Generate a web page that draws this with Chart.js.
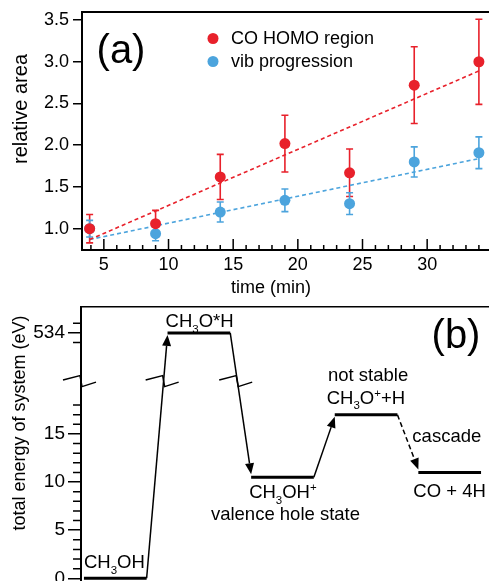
<!DOCTYPE html>
<html>
<head>
<meta charset="utf-8">
<script src="https://cdn.jsdelivr.net/npm/chart.js@4.4.1/dist/chart.umd.min.js"></script>
<style>
  html, body { margin: 0; padding: 0; background: #fff; overflow: hidden; }
  #wrap { position: relative; width: 489px; height: 581px; overflow: hidden; background: #fff; }
  #chartA { position: absolute; left: 0; top: 0; }
  #chartB { position: absolute; left: 0; top: 290px; }
</style>
</head>
<body>
<div id="wrap">
  <canvas id="chartA" width="495" height="300"></canvas>
  <canvas id="chartB" width="495" height="295"></canvas>
</div>
<script>
// Panel (a): relative peak area vs. time
const times = [3.9, 9, 14, 19, 24, 29, 34];
const homoArea = [1.0, 1.06, 1.62, 2.02, 1.67, 2.72, 3.0];
const homoErr = [0.17, 0.16, 0.27, 0.34, 0.285, 0.46, 0.51];
const vibArea = [1.0, 0.94, 1.2, 1.34, 1.3, 1.8, 1.91];
const vibErr = [0.1, 0.085, 0.12, 0.135, 0.13, 0.18, 0.19];
const fitTimes = [3.9, 34];
const homoFit = [0.87, 2.89];
const vibFit = [0.87, 1.84];
const areaTicks = [1.0, 1.5, 2.0, 2.5, 3.0, 3.5];
const timeTicks = [5, 10, 15, 20, 25, 30];
const timeMinor = [4, 6, 7, 8, 9, 11, 12, 13, 14, 16, 17, 18, 19, 21, 22, 23, 24, 26, 27, 28, 29, 31, 32, 33, 34];

// Panel (b): energy levels in eV, axis broken between ~20 and ~530
const stateLabels = [
  [["CH", 0], ["3", 1], ["OH", 0]],
  [["CH", 0], ["3", 1], ["O*H", 0]],
  [["CH", 0], ["3", 1], ["OH", 0], ["+", -1]],
  [["CH", 0], ["3", 1], ["O", 0], ["+", -1], ["+H", 0]],
  [["CO + 4H", 0]]
];
const energies = [0, 534, 10.5, 17, 11];
const energyTicks = [0, 5, 10, 15, 534];
const energyMinor = [1, 2, 3, 4, 6, 7, 8, 9, 11, 12, 13, 14, 16, 17, 18, 533, 535];

const RED = "#e8212b";
const BLUE = "#4ca4dd";
const FONT = "'Liberation Sans', Arial, Helvetica, sans-serif";

Chart.defaults.font.family = FONT;
Chart.defaults.font.size = 18;
Chart.defaults.color = "#000";

const pairs = (xs, ys) => xs.map((x, i) => ({ x, y: ys[i] }));

// broken axis: values above the gap are shifted down
const GAP = 508.5;
const BREAK = 20.6;
const toAxis = v => (v > 100 ? v - GAP : v);
const fromAxis = v => (v > BREAK ? v + GAP : v);
const LEVEL_HALF = 0.375;

// ---------- panel (a) ----------
const errorBars = {
  id: "errorBars",
  beforeDatasetsDraw(chart) {
    const { ctx, scales: { x, y } } = chart;
    [[homoArea, homoErr, RED], [vibArea, vibErr, BLUE]].forEach(([vals, errs, col]) => {
      ctx.save();
      ctx.strokeStyle = col;
      ctx.lineWidth = 1.6;
      times.forEach((t, i) => {
        const px = x.getPixelForValue(t);
        const top = y.getPixelForValue(vals[i] + errs[i]);
        const bot = y.getPixelForValue(vals[i] - errs[i]);
        ctx.beginPath();
        ctx.moveTo(px, top); ctx.lineTo(px, bot);
        ctx.moveTo(px - 3.5, top); ctx.lineTo(px + 3.5, top);
        ctx.moveTo(px - 3.5, bot); ctx.lineTo(px + 3.5, bot);
        ctx.stroke();
      });
      ctx.restore();
    });
  }
};

const frameA = {
  id: "frameA",
  afterDraw(chart) {
    const { ctx, chartArea: a, scales: { x } } = chart;
    ctx.save();
    ctx.strokeStyle = "#000";
    ctx.lineWidth = 1.8;
    ctx.beginPath();
    ctx.moveTo(a.left, a.top); ctx.lineTo(a.right, a.top);
    ctx.stroke();

    // inward ticks on the time axis
    ctx.lineWidth = 1.5;
    ctx.beginPath();
    timeTicks.forEach(t => {
      const px = x.getPixelForValue(t);
      ctx.moveTo(px, a.bottom); ctx.lineTo(px, a.bottom - 11);
    });
    timeMinor.forEach(t => {
      const px = x.getPixelForValue(t);
      ctx.moveTo(px, a.bottom); ctx.lineTo(px, a.bottom - 5);
    });
    ctx.stroke();

    // legend
    const sets = chart.data.datasets;
    [[sets[0], 38.5], [sets[1], 61.5]].forEach(([ds, yy]) => {
      ctx.fillStyle = ds.backgroundColor;
      ctx.beginPath(); ctx.arc(213, yy, 5.5, 0, 2 * Math.PI); ctx.fill();
      ctx.fillStyle = "#000";
      ctx.font = "18px " + FONT;
      ctx.textAlign = "left";
      ctx.textBaseline = "middle";
      ctx.fillText(ds.label, 231, yy + 1);
    });

    ctx.textAlign = "center";
    ctx.textBaseline = "middle";
    ctx.font = "40px " + FONT;
    ctx.fillText("(a)", 121, 52);
    ctx.font = "18px " + FONT;
    ctx.fillText("time (min)", 271, 288);
    ctx.translate(21, 109);
    ctx.rotate(-Math.PI / 2);
    ctx.font = "20px " + FONT;
    ctx.fillText("relative area", 0, 0);
    ctx.restore();
  }
};

new Chart(document.getElementById("chartA"), {
  type: "scatter",
  data: {
    datasets: [
      { label: "CO HOMO region", data: pairs(times, homoArea), backgroundColor: RED, borderColor: RED, pointRadius: 5.5, pointBorderWidth: 0 },
      { label: "vib progression", data: pairs(times, vibArea), backgroundColor: BLUE, borderColor: BLUE, pointRadius: 5.5, pointBorderWidth: 0 },
      { type: "line", label: "fit HOMO", data: pairs(fitTimes, homoFit), borderColor: RED, borderWidth: 1.6, borderDash: [4, 3], pointRadius: 0, fill: false },
      { type: "line", label: "fit vib", data: pairs(fitTimes, vibFit), borderColor: BLUE, borderWidth: 1.6, borderDash: [4, 3], pointRadius: 0, fill: false }
    ]
  },
  options: {
    responsive: false,
    animation: false,
    layout: { padding: { top: 12, right: 3, left: 0, bottom: 0 } },
    plugins: { legend: { display: false }, tooltip: { enabled: false } },
    scales: {
      x: {
        type: "linear", min: 3.31, max: 34.82,
        afterBuildTicks: s => { s.ticks = timeTicks.map(v => ({ value: v })); },
        afterFit: s => { s.height = 50; s.paddingLeft = 0; s.paddingRight = 0; },
        grid: { drawOnChartArea: false, drawTicks: false },
        border: { color: "#000", width: 2 },
        ticks: { padding: 4, autoSkip: false, maxRotation: 0, font: { size: 18 } }
      },
      y: {
        min: 0.745, max: 3.596,
        afterBuildTicks: s => { s.ticks = areaTicks.map(v => ({ value: v })); },
        afterFit: s => { s.width = 82; s.paddingTop = 0; s.paddingBottom = 0; },
        grid: { drawOnChartArea: false, tickLength: 9, color: "#000", lineWidth: 1.5 },
        border: { color: "#000", width: 2 },
        ticks: { padding: 4, autoSkip: false, font: { size: 18 }, callback: v => v.toFixed(1) }
      }
    }
  },
  plugins: [errorBars, frameA]
});

// ---------- panel (b) ----------
function arrow(ctx, x0, y0, x1, y1, dashed) {
  const ang = Math.atan2(y1 - y0, x1 - x0);
  const L = 11, W = 4.5;
  const bx = x1 - L * Math.cos(ang), by = y1 - L * Math.sin(ang);
  ctx.save();
  ctx.lineWidth = 1.5;
  ctx.strokeStyle = "#000";
  ctx.fillStyle = "#000";
  if (dashed) ctx.setLineDash([5, 3]);
  ctx.beginPath(); ctx.moveTo(x0, y0); ctx.lineTo(bx, by); ctx.stroke();
  ctx.setLineDash([]);
  ctx.beginPath();
  ctx.moveTo(x1, y1);
  ctx.lineTo(bx + W * Math.sin(ang), by - W * Math.cos(ang));
  ctx.lineTo(bx - W * Math.sin(ang), by + W * Math.cos(ang));
  ctx.closePath();
  ctx.fill();
  ctx.restore();
}

function zig(ctx, cx, cy) {
  ctx.save();
  ctx.strokeStyle = "#000";
  ctx.lineWidth = 1.5;
  ctx.beginPath();
  ctx.moveTo(cx - 18, cy);
  ctx.lineTo(cx - 1, cy - 4.5);
  ctx.lineTo(cx + 1, cy + 6.5);
  ctx.lineTo(cx + 15, cy + 2);
  ctx.stroke();
  ctx.restore();
}

function chem(ctx, parts, x, y, size) {
  let cx = x;
  ctx.textAlign = "left";
  ctx.textBaseline = "alphabetic";
  parts.forEach(([t, s]) => {
    ctx.font = (s ? size * 0.62 : size) + "px " + FONT;
    ctx.fillText(t, cx, y + (s > 0 ? size * 0.3 : s < 0 ? -size * 0.38 : 0));
    cx += ctx.measureText(t).width;
  });
}

const levelPoints = [];
energies.forEach((e, i) => {
  levelPoints.push({ x: i - LEVEL_HALF, y: toAxis(e) }, { x: i + LEVEL_HALF, y: toAxis(e) }, { x: i + 0.5, y: null });
});

const diagramB = {
  id: "diagramB",
  afterDraw(chart) {
    const { ctx, chartArea: a, scales: { x, y } } = chart;
    const py = e => y.getPixelForValue(toAxis(e));
    ctx.save();
    ctx.strokeStyle = "#000";
    ctx.fillStyle = "#000";

    // frame top
    ctx.lineWidth = 1.6;
    ctx.beginPath();
    ctx.moveTo(a.left, a.top); ctx.lineTo(a.right, a.top);
    ctx.stroke();

    // minor ticks
    ctx.lineWidth = 1.5;
    ctx.beginPath();
    energyMinor.forEach(e => {
      const p = py(e);
      ctx.moveTo(a.left - 8, p); ctx.lineTo(a.left, p);
    });
    ctx.stroke();

    // axis break
    const yb = y.getPixelForValue(BREAK);
    zig(ctx, a.left, yb);

    // transitions
    for (let i = 0; i < energies.length - 1; i++) {
      const x0 = x.getPixelForValue(i + LEVEL_HALF), y0 = py(energies[i]);
      const x1 = x.getPixelForValue(i + 1 - LEVEL_HALF);
      const up = energies[i + 1] > energies[i];
      const y1 = py(energies[i + 1]) + (up ? 2 : -3);
      arrow(ctx, x0, y0, x1, y1, i === 3);
      if ((energies[i] > 100) !== (energies[i + 1] > 100)) {
        const xb = x0 + (x1 - x0) * (yb - y0) / (y1 - y0);
        zig(ctx, xb, yb);
      }
    }

    // state labels
    const sz = 18.5;
    const xs = i => x.getPixelForValue(i - LEVEL_HALF);
    const offs = [[0, -10], [-2, -6], [-2, 21], [-8, -11], [-5, 25]];
    stateLabels.forEach((parts, i) => {
      chem(ctx, parts, xs(i) + offs[i][0], py(energies[i]) + offs[i][1], sz);
    });
    ctx.font = sz + "px " + FONT;
    ctx.textAlign = "center";
    ctx.fillText("valence hole state", x.getPixelForValue(2) + 3, py(energies[2]) + 43);
    ctx.fillText("not stable", x.getPixelForValue(3) + 2, py(energies[3]) - 34);
    ctx.textAlign = "left";
    ctx.fillText("cascade", xs(4) - 6, py(energies[4]) - 30);

    ctx.textAlign = "center";
    ctx.textBaseline = "middle";
    ctx.font = "40px " + FONT;
    ctx.fillText("(b)", 456, 47);
    ctx.translate(20, 133);
    ctx.rotate(-Math.PI / 2);
    ctx.font = "18px " + FONT;
    ctx.fillText("total energy of system (eV)", 0, 0);
    ctx.restore();
  }
};

new Chart(document.getElementById("chartB"), {
  type: "line",
  data: {
    datasets: [
      { label: "levels", data: levelPoints, borderColor: "#000", borderWidth: 3, pointRadius: 0, spanGaps: false, borderCapStyle: "butt", fill: false }
    ]
  },
  options: {
    responsive: false,
    animation: false,
    layout: { padding: { top: 16.7, right: 3, left: 0, bottom: 0 } },
    plugins: { legend: { display: false }, tooltip: { enabled: false } },
    scales: {
      x: { type: "linear", display: false, min: -0.41, max: 4.506 },
      y: {
        type: "linear", min: -0.7, max: 28.23,
        afterBuildTicks: s => { s.ticks = energyTicks.map(v => ({ value: toAxis(v) })); },
        afterFit: s => { s.width = 81; s.paddingTop = 0; s.paddingBottom = 0; },
        grid: { drawOnChartArea: false, tickLength: 13, color: "#000", lineWidth: 1.5 },
        border: { color: "#000", width: 2 },
        ticks: { padding: 3, autoSkip: false, font: { size: 19 }, callback: v => String(Math.round(fromAxis(v))) }
      }
    }
  },
  plugins: [diagramB]
});
</script>
</body>
</html>
